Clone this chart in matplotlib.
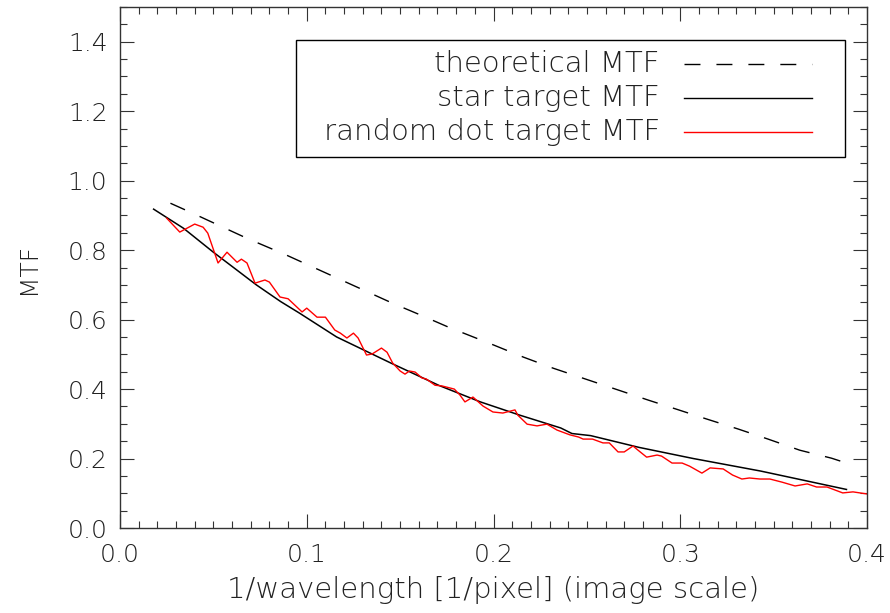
import matplotlib
matplotlib.use("Agg")
import matplotlib.pyplot as plt
from matplotlib.ticker import MultipleLocator, FormatStrFormatter
from matplotlib.lines import Line2D
from matplotlib.patches import Rectangle

# ---- data ----
theo_x = [0.027, 0.039, 0.068, 0.089, 0.146, 0.161, 0.176, 0.200, 0.216, 0.232,
          0.283, 0.298, 0.314, 0.331, 0.347, 0.364, 0.381, 0.389]
theo_y = [0.935, 0.906, 0.834, 0.786, 0.647, 0.613, 0.578, 0.527, 0.492, 0.460,
          0.368, 0.342, 0.314, 0.285, 0.256, 0.224, 0.201, 0.187]

star_x = [0.018, 0.034, 0.050, 0.062, 0.073, 0.086, 0.096, 0.116, 0.145, 0.171,
          0.193, 0.214, 0.236, 0.242, 0.252, 0.278, 0.307, 0.343, 0.389]
star_y = [0.918, 0.863, 0.794, 0.745, 0.700, 0.652, 0.619, 0.550, 0.475, 0.410,
          0.363, 0.325, 0.288, 0.272, 0.266, 0.232, 0.200, 0.164, 0.111]

dot_x = [0.025, 0.032, 0.040, 0.0445, 0.047, 0.0525, 0.0573, 0.0627, 0.065, 0.068,
         0.0723, 0.0776, 0.080, 0.0857, 0.090, 0.0975, 0.100, 0.1055, 0.110, 0.115,
         0.118, 0.1215, 0.125, 0.1275, 0.132, 0.135, 0.140, 0.143, 0.146, 0.150,
         0.1526, 0.155, 0.158, 0.1617, 0.164, 0.1687, 0.1724, 0.179, 0.182, 0.1847,
         0.189, 0.1944, 0.1997, 0.205, 0.2115, 0.213, 0.218, 0.2233, 0.2286, 0.234,
         0.241, 0.2455, 0.248, 0.253, 0.2586, 0.262, 0.2667, 0.270, 0.2747, 0.2774,
         0.282, 0.2876, 0.290, 0.2956, 0.301, 0.305, 0.3116, 0.316, 0.323, 0.328,
         0.333, 0.337, 0.3427, 0.348, 0.3545, 0.3615, 0.368, 0.373, 0.3786, 0.387,
         0.3925, 0.400]
dot_y = [0.892, 0.852, 0.875, 0.866, 0.849, 0.763, 0.794, 0.765, 0.774, 0.763,
         0.705, 0.714, 0.708, 0.665, 0.660, 0.622, 0.633, 0.607, 0.607, 0.570,
         0.561, 0.547, 0.561, 0.547, 0.498, 0.501, 0.518, 0.506, 0.475, 0.452,
         0.443, 0.452, 0.449, 0.432, 0.429, 0.411, 0.409, 0.400, 0.383, 0.363,
         0.377, 0.351, 0.334, 0.331, 0.340, 0.325, 0.299, 0.294, 0.299, 0.282,
         0.268, 0.262, 0.256, 0.256, 0.245, 0.245, 0.219, 0.219, 0.236, 0.224,
         0.204, 0.210, 0.207, 0.187, 0.187, 0.178, 0.158, 0.173, 0.170, 0.1525,
         0.141, 0.144, 0.141, 0.141, 0.132, 0.121, 0.127, 0.118, 0.118, 0.101,
         0.104, 0.098]

legend_labels = ["theoretical MTF", "star target MTF", "random dot target MTF"]
x_label = "1/wavelength [1/pixel] (image scale)"
y_label = "MTF"

# ---- figure ----
W, H = 890, 613
DPI = 100
plt.rcParams['font.family'] = ['DejaVu Sans']
fig = plt.figure(figsize=(W / DPI, H / DPI), dpi=DPI)

def fx(px):
    return px / W

def fy(py):
    return 1 - py / H

ax_l, ax_r, ax_t, ax_b = 120, 867, 7, 528
ax = fig.add_axes([fx(ax_l), fy(ax_b), fx(ax_r - ax_l), (ax_b - ax_t) / H])

txt_col = '#222222'
FS = 18
LFS = 21

dash = (11.5, 11.5)
ax.plot(theo_x, theo_y, color='black', lw=1.0, dashes=dash)
ax.plot(star_x, star_y, color='black', lw=1.1)
ax.plot(dot_x, dot_y, color='#ff0000', lw=1.0, clip_on=True)

ax.set_xlim(0.0, 0.4)
ax.set_ylim(0.0, 1.5)
ax.xaxis.set_major_locator(MultipleLocator(0.1))
ax.xaxis.set_minor_locator(MultipleLocator(0.01))
ax.yaxis.set_minor_locator(MultipleLocator(0.05))
ax.xaxis.set_major_formatter(FormatStrFormatter('%.1f'))
ax.yaxis.set_major_formatter(FormatStrFormatter('%.1f'))
ax.set_yticks([0.0, 0.2, 0.4, 0.6, 0.8, 1.0, 1.2, 1.4])

ax.tick_params(which='both', direction='in', top=True, right=True,
               color='#333333', width=0.8)
ax.tick_params(which='major', length=10, labelsize=FS, labelcolor=txt_col, pad=9)
ax.tick_params(axis='x', which='major', pad=11)
ax.tick_params(which='minor', length=5)
for lab in ax.get_xticklabels() + ax.get_yticklabels():
    lab.set_fontweight('light')
for s in ax.spines.values():
    s.set_linewidth(1.0)
    s.set_color('#333333')

fig.text(fx(493), fy(590), x_label, ha='center', va='center', fontsize=LFS,
         color=txt_col, fontweight='light')
fig.text(fx(28), fy(268), y_label, ha='center', va='center', fontsize=FS,
         color=txt_col, rotation=90, fontweight='light')

# legend box drawn manually
box = Rectangle((fx(296), fy(157)), fx(845 - 296), (157 - 40) / H,
                transform=fig.transFigure, fill=False, edgecolor='black', lw=1.0)
fig.patches.append(box)
rows = [64, 98, 132]
styles = [dict(color='black', dashes=dash), dict(color='black'), dict(color='#ff0000')]
for lab, ry, st in zip(legend_labels, rows, styles):
    fig.text(fx(660), fy(ry), lab, ha='right', va='center', fontsize=LFS,
             color=txt_col, fontweight='light')
    ln = Line2D([fx(684), fx(812)], [fy(ry), fy(ry)], transform=fig.transFigure,
                lw=1.0, **st)
    fig.lines.append(ln)

fig.savefig('out.png', dpi=DPI)
